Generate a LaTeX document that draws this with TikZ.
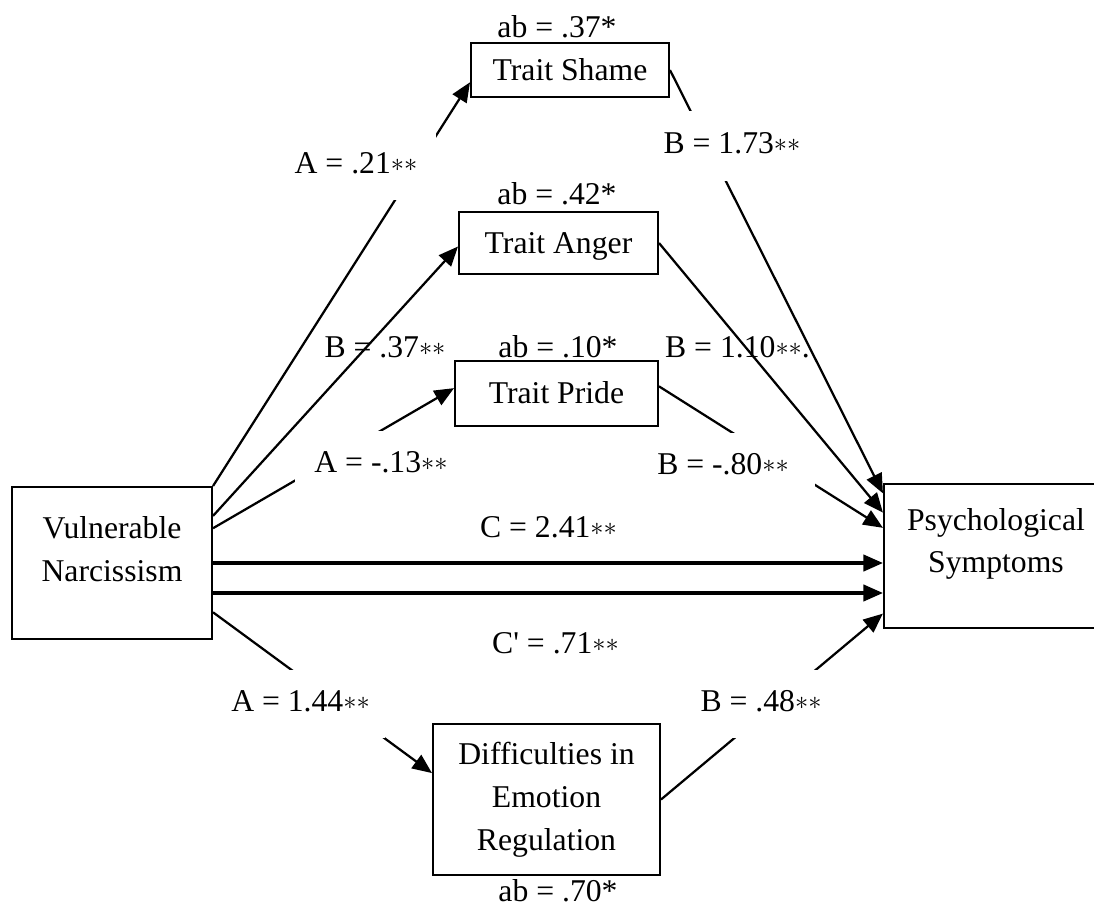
\documentclass[tikz,border=0pt]{standalone}
\usepackage{fontspec}
\setmainfont{Liberation Serif}
\usetikzlibrary{arrows.meta,backgrounds}
\newcommand{\sig}{\raisebox{1pt}{\fontsize{10}{10}\selectfont$\ast\ast$}}
\tikzset{
  >={Triangle[length=7.4pt,width=6.2pt]},
  var/.style={draw,line width=0.8pt,inner sep=0pt,align=center,
    font=\fontsize{12}{16.2}\selectfont},
  one/.style={text height=9.6pt,text depth=2pt},
  coef/.style={inner sep=0pt,font=\fontsize{12}{14}\selectfont,
    text height=8.5pt,text depth=2.5pt},
  gap/.style={coef,fill=white,minimum height=25.7pt,minimum width=#1},
  gap/.default=0pt,
  flow/.style={->,line width=#1},
  flow/.default=0.85pt,
}

\begin{document}
\begin{tikzpicture}[x=0.0133cm,y=-0.0133cm]
  \useasboundingbox (0,0) rectangle (1094,905);
  % variables
  \node[var,minimum width=75.7pt,minimum height=57.5pt] (vn) at (112,563) {Vulnerable\\Narcissism\rule[-10.5pt]{0pt}{0pt}};
  \node[var,minimum width=84.8pt,minimum height=54.5pt] (ps) at (996,556) {Psychological\\Symptoms\rule[-11.7pt]{0pt}{0pt}};
  \node[var,one,minimum width=74.9pt,minimum height=20.4pt] (shame) at (570,70) {Trait Shame};
  \node[var,one,minimum width=75.3pt,minimum height=23.5pt] (anger) at (558.5,243) {Trait Anger};
  \node[var,one,minimum width=76.8pt,minimum height=24.6pt] (pride) at (556.5,393.5) {Trait Pride};
  \node[var,minimum width=85.9pt,minimum height=57.2pt] (der) at (546.5,799.5) {Difficulties in\\Emotion\\Regulation};
  % indirect effects
  \foreach \i/\x/\y/\v in {1/557/30/.37, 2/557/197/.42, 3/558/350/.10, 4/558/894/.70}
    \node[coef] (ab\i) at (\x,\y) {ab = \v*};
  % paths
  \coordinate (vn2) at ([yshift=-11.35pt]vn.east);
  \begin{scope}[on background layer]
    \draw[flow] (vn.north east) -- (shame.187);
    \draw[flow] (vn.25) -- (anger.182);
    \draw[flow] (vn.19) -- (pride.177);
    \draw[flow] (vn.-26) -- (der.167);
    \draw[flow] (shame.east) -- (ps.151);
    \draw[flow] (anger.east) -- (ps.159);
    \draw[flow] (pride.4) -- (ps.166);
    \draw[flow] (der.east) -- (ps.207);
    \draw[flow=1.15pt] (vn.east) -- (vn.east -| ps.west);
    \draw[flow=1.15pt] (vn2) -- (vn2 -| ps.west);
  \end{scope}
  % coefficients
  \node[gap=60.6pt] (a1) at (356,166) {A = .21\sig};
  \node[gap,minimum height=26.5pt] (b1) at (732,146) {B = 1.73\sig};
  \node[coef] (b2) at (385,350) {B = .37\sig};
  \node[coef] (b3) at (737.5,350) {B = 1.10\sig.};
  \node[gap=65.1pt] (a3) at (381,465) {A = -.13\sig};
  \node[gap=69.6pt] (b4) at (723,467) {B = -.80\sig};
  \node[coef] (c) at (548.5,530) {C = 2.41\sig};
  \node[coef] (cp) at (555.5,646) {C\textquotesingle{} = .71\sig};
  \node[gap=64.3pt] (a4) at (300.5,704) {A = 1.44\sig};
  \node[gap=49.2pt] (b5) at (761,704) {B = .48\sig};
\end{tikzpicture}
\end{document}
